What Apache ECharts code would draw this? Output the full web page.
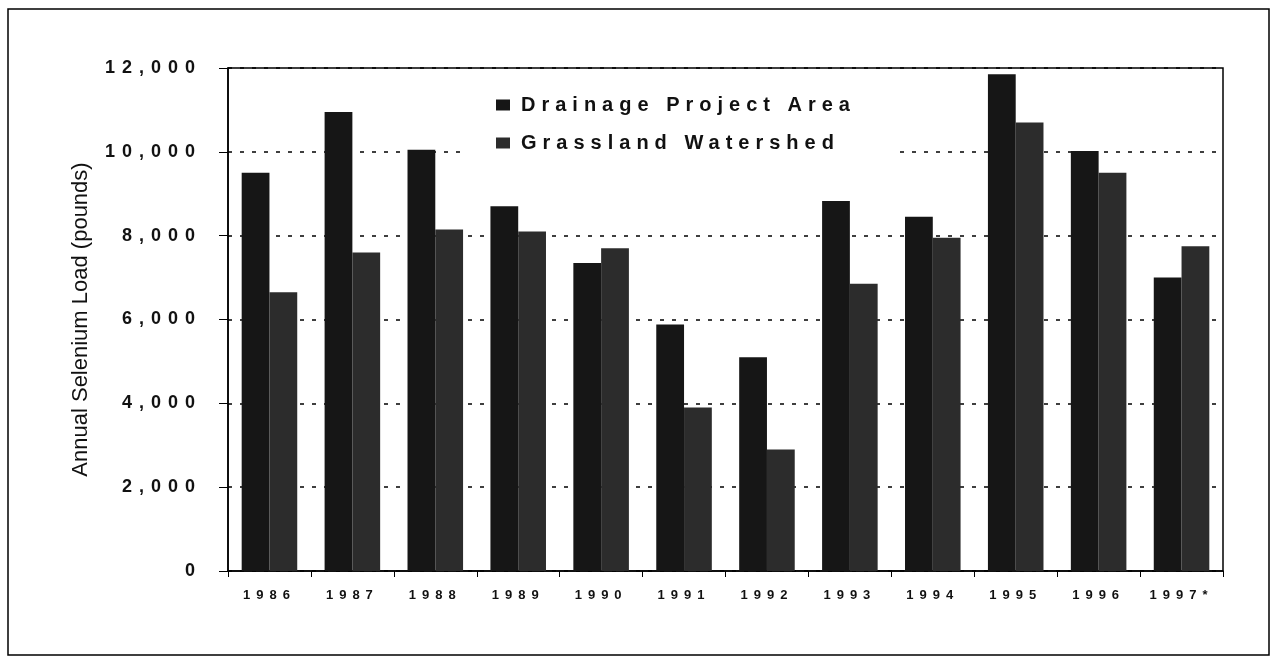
<!DOCTYPE html>
<html><head><meta charset="utf-8">
<script src="https://cdn.jsdelivr.net/npm/echarts@6/dist/echarts.min.js"></script>
<style>html,body{margin:0;padding:0;background:#fff}#c{width:1271px;height:660px}</style>
</head><body><div id="c"></div>
<script>
// Letter-spacing support for canvas text (font family marker LSPXn => n px spacing)
(function(){
  var P = window.CanvasRenderingContext2D && CanvasRenderingContext2D.prototype;
  if (!P) return;
  var d = Object.getOwnPropertyDescriptor(P, 'font');
  if (!d || !d.set || !('letterSpacing' in P)) return;
  Object.defineProperty(P, 'font', {
    configurable: true, enumerable: d.enumerable,
    get: function(){ return d.get.call(this); },
    set: function(v){ d.set.call(this, v); var m = /LSPX(\d+)/.exec(v); this.letterSpacing = m ? m[1] + 'px' : '0px'; }
  });
})();

var categories = ['1986','1987','1988','1989','1990','1991','1992','1993','1994','1995','1996','1997*'];
var drainageProjectArea = [9500, 10950, 10050, 8700, 7350, 5880, 5100, 8830, 8450, 11850, 10020, 7000];
var grasslandWatershed  = [6650, 7600, 8150, 8100, 7700, 3900, 2900, 6850, 7950, 10700, 9500, 7750];
var yTickLabels = ['0','2,000','4,000','6,000','8,000','10,000','12,000'];
var seriesNames = ['Drainage Project Area', 'Grassland Watershed'];

var chart = echarts.init(document.getElementById('c'), null, {renderer: 'canvas'});
chart.setOption({
  animation: false,
  backgroundColor: '#fff',
  graphic: [{
    type: 'rect', silent: true, z: 100,
    shape: {x: 8, y: 9, width: 1261, height: 646},
    style: {fill: 'none', stroke: '#000', lineWidth: 1.5}
  }],
  grid: {left: 228, right: 48, top: 68, bottom: 89, show: true, borderColor: '#000', borderWidth: 1.5, backgroundColor: 'transparent'},
  legend: {
    orient: 'vertical', left: 468, top: 80,
    padding: [12, 40, 14, 28],
    backgroundColor: '#fff',
    itemWidth: 14, itemHeight: 11, itemGap: 12,
    icon: 'rect',
    textStyle: {fontSize: 20, fontWeight: 'bold', color: '#111', fontFamily: 'LSPX6, "Liberation Sans", Arial, sans-serif', padding: [0, 0, 0, 6]},
    data: seriesNames
  },
  xAxis: {
    type: 'category', data: categories,
    axisLine: {lineStyle: {color: '#000', width: 1.5}},
    axisTick: {show: true, length: 6, interval: 0, lineStyle: {color: '#000', width: 1}},
    axisLabel: {interval: 0, margin: 15, fontSize: 13, fontWeight: 'bold', color: '#111', fontFamily: 'LSPX6, "Liberation Sans", Arial, sans-serif'},
    splitLine: {show: false}
  },
  yAxis: {
    type: 'value', min: 0, max: 12000, interval: 2000,
    name: 'Annual Selenium Load (pounds)', nameLocation: 'middle', nameGap: 136,
    nameTextStyle: {fontSize: 22, color: '#111', fontFamily: '"Liberation Sans", Arial, sans-serif'},
    axisLine: {show: true, lineStyle: {color: '#000', width: 1.5}},
    axisTick: {show: true, length: 9, lineStyle: {color: '#000', width: 1}},
    axisLabel: {margin: 26, fontSize: 18, fontWeight: 'bold', color: '#111', fontFamily: 'LSPX7, "Liberation Sans", Arial, sans-serif',
      formatter: function(v){ return yTickLabels[Math.round(v / 2000)]; }},
    splitLine: {show: true, lineStyle: {color: '#000', width: 1.5, type: [4, 8]}}
  },
  series: [
    {name: seriesNames[0], type: 'bar', data: drainageProjectArea, barGap: '0%', barCategoryGap: '33%',
     itemStyle: {color: '#161616'}},
    {name: seriesNames[1], type: 'bar', data: grasslandWatershed, barGap: '0%', barCategoryGap: '33%',
     itemStyle: {color: '#2c2c2c'}}
  ]
});
</script>
</body></html>
